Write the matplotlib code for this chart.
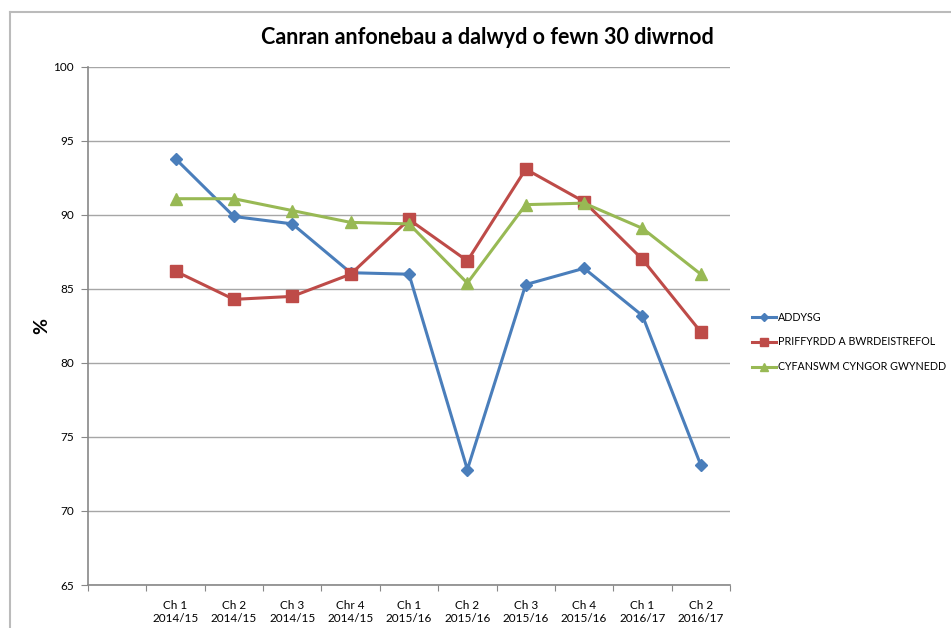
import numpy as np
import matplotlib.pyplot as plt
from matplotlib.lines import Line2D

plt.rcParams['font.family'] = ['Lato', 'DejaVu Sans']

# categories (first slot is left empty in the original)
quarters = ["Ch 1\n2014/15", "Ch 2\n2014/15", "Ch 3\n2014/15", "Chr 4\n2014/15",
            "Ch 1\n2015/16", "Ch 2\n2015/16", "Ch 3\n2015/16", "Ch 4\n2015/16",
            "Ch 1\n2016/17", "Ch 2\n2016/17"]

addysg = [93.8, 89.9, 89.4, 86.1, 86.0, 72.8, 85.3, 86.4, 83.2, 73.1]
priffyrdd = [86.2, 84.3, 84.5, 86.0, 89.7, 86.9, 93.1, 90.9, 87.0, 82.1]
cyfanswm = [91.1, 91.1, 90.3, 89.5, 89.4, 85.4, 90.7, 90.8, 89.1, 86.0]

names = ["ADDYSG", "PRIFFYRDD A BWRDEISTREFOL", "CYFANSWM CYNGOR GWYNEDD"]
colors = ["#4A7EBB", "#BE4B48", "#98B954"]
markers = ["D", "s", "^"]
msizes = [6, 8, 8]

fig = plt.figure(figsize=(9.51, 6.28), dpi=100)
ax = fig.add_axes([88/951, 1-585/628, (730-88)/951, (585-67)/628])

xs = np.arange(1, len(quarters) + 1)
for ys, name, c, m, ms in zip([addysg, priffyrdd, cyfanswm], names, colors, markers, msizes):
    ax.plot(xs, ys, color=c, lw=2.2, marker=m, ms=ms, label=name, zorder=3)

ax.set_xlim(-0.5, 10.5)
ax.set_ylim(65, 100)
ax.set_yticks(np.arange(65, 101, 5))
ax.yaxis.grid(True, color="#a6a6a6", lw=1)
ax.set_axisbelow(True)

# boundaries as major ticks, labels on the centres
ax.set_xticks(np.arange(-0.5, 10.6, 1))
ax.set_xticklabels([])
ax.set_xticks(xs, minor=True)
ax.set_xticklabels(quarters, minor=True, fontsize=8.5)
ax.tick_params(axis="x", which="minor", length=0, pad=11)
ax.tick_params(axis="x", which="major", length=4, color="#888888")
ax.tick_params(axis="y", length=5, color="#888888", labelsize=8.5, pad=5)

for s in ["top", "right"]:
    ax.spines[s].set_visible(False)
for s in ["left", "bottom"]:
    ax.spines[s].set_color("#888888")
    ax.spines[s].set_linewidth(1.2)

ax.set_ylabel("%", fontsize=14, fontweight="bold", labelpad=2)
fig.text(487/951, 1-37/628, "Canran anfonebau a dalwyd o fewn 30 diwrnod",
         ha="center", va="center", fontsize=15.5, fontweight="bold")

ax.legend(loc="center left", bbox_to_anchor=(742/951, 1-342/628), bbox_transform=fig.transFigure,
          frameon=False, fontsize=7.7, handlelength=2.3, labelspacing=1.3, handletextpad=0.2,
          markerscale=0.7)

# chart border as in the screenshot
fig.add_artist(Line2D([10/951, 10/951], [0, 1-12/628], transform=fig.transFigure, color="#bbbbbb", lw=1.5))
fig.add_artist(Line2D([10/951, 1], [1-12/628, 1-12/628], transform=fig.transFigure, color="#bbbbbb", lw=1.5))

fig.savefig("out.png", dpi=100)
